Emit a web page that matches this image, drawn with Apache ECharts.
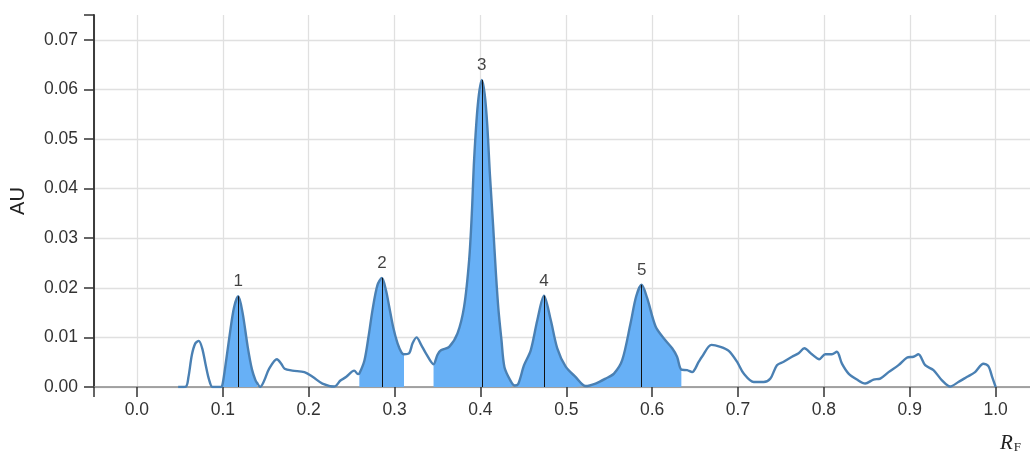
<!DOCTYPE html>
<html>
<head>
<meta charset="utf-8">
<script src="https://cdn.jsdelivr.net/npm/echarts@6/dist/echarts.min.js"></script>
<style>
  html, body { margin: 0; padding: 0; background: #fff; }
  #chart { width: 1030px; height: 459px; }
</style>
</head>
<body>
<div id="chart"></div>
<script>
// densitogram trace: RF position vs absorbance (AU)
const rf = [
  0.048, 0.057, 0.060, 0.064, 0.068, 0.072, 0.076, 0.080, 0.084, 0.088,
  0.098, 0.100, 0.104, 0.108, 0.113, 0.118, 0.123, 0.129, 0.134, 0.138,
  0.140, 0.1435, 0.148, 0.154, 0.163, 0.168, 0.172, 0.181, 0.195, 0.205,
  0.216, 0.230, 0.237, 0.2435, 0.253, 0.2575, 0.259, 0.265, 0.270, 0.2744,
  0.280, 0.2853, 0.290, 0.2938, 0.2985, 0.3035, 0.308, 0.311, 0.317, 0.321,
  0.3256, 0.331, 0.3365, 0.3454, 0.350, 0.354, 0.3636, 0.3733, 0.381, 0.3869,
  0.390, 0.3927, 0.397, 0.4016, 0.405, 0.408, 0.411, 0.4148, 0.418, 0.421,
  0.4245, 0.428, 0.4353, 0.440, 0.444, 0.4508, 0.4586, 0.4663, 0.474, 0.4819,
  0.4895, 0.4993, 0.511, 0.5225, 0.534, 0.5458, 0.5555, 0.5651, 0.5749, 0.5814,
  0.5877, 0.5942, 0.604, 0.6136, 0.6233, 0.629, 0.634, 0.6407, 0.6465, 0.6543,
  0.658, 0.669, 0.6795, 0.6892, 0.6988, 0.7066, 0.7183, 0.7299, 0.7377, 0.7453,
  0.7531, 0.7628, 0.7706, 0.7772, 0.786, 0.7946, 0.8016, 0.8093, 0.8151, 0.821,
  0.8287, 0.8384, 0.8481, 0.8578, 0.8656, 0.8753, 0.8869, 0.8965, 0.9043, 0.9101,
  0.9179, 0.9276, 0.9372, 0.947, 0.9566, 0.9663, 0.976, 0.9857, 0.9915, 0.996,
  1.0
];
const au = [
  0, 0.0001, 0.002, 0.0065, 0.0088, 0.0093, 0.0078, 0.0045, 0.0015, 0,
  0, 0.0008, 0.0055, 0.0105, 0.016, 0.0183, 0.015, 0.0081, 0.0035, 0.0014,
  0.0008, 0, 0.0012, 0.0037, 0.0056, 0.0047, 0.0037, 0.0033, 0.003, 0.002,
  0.0007, 0.0001, 0.0013, 0.002, 0.0033, 0.0026, 0.0027, 0.0054, 0.0105, 0.0156,
  0.0205, 0.022, 0.0195, 0.0162, 0.012, 0.0088, 0.007, 0.0066, 0.0068, 0.0088,
  0.01, 0.0085, 0.0068, 0.0046, 0.0065, 0.0074, 0.0081, 0.0108, 0.0162, 0.0257,
  0.035, 0.046, 0.057, 0.0619, 0.059, 0.0527, 0.043, 0.0325, 0.023, 0.0156,
  0.0095, 0.004, 0.0012, 0.0003, 0.0006, 0.0044, 0.0074, 0.0135, 0.0184, 0.0135,
  0.0078, 0.0041, 0.002, 0.0002, 0.0007, 0.0017, 0.0027, 0.0054, 0.0129, 0.0183,
  0.0206, 0.0179, 0.0122, 0.0098, 0.0078, 0.0061, 0.0035, 0.0034, 0.003, 0.0051,
  0.0061, 0.0085, 0.0081, 0.0073, 0.0051, 0.0027, 0.001, 0.001, 0.0017, 0.0044,
  0.0051, 0.0061, 0.0068, 0.0078, 0.0066, 0.0056, 0.0066, 0.0066, 0.0071, 0.0047,
  0.0027, 0.0015, 0.0007, 0.0015, 0.0017, 0.003, 0.0044, 0.0059, 0.0061, 0.0066,
  0.0044, 0.0034, 0.0014, 0.0001, 0.001, 0.002, 0.003, 0.0047, 0.0042, 0.002,
  0
];

// integrated peaks
const peakLabels = ["1", "2", "3", "4", "5"];
const peakRf = [0.118, 0.2853, 0.4016, 0.474, 0.5877];
const peakAu = [0.0183, 0.022, 0.0619, 0.0184, 0.0206];
const peakStart = [0.100, 0.259, 0.3454, 0.440, 0.5225];
const peakEnd = [0.140, 0.311, 0.440, 0.5225, 0.634];

// axis ticks
const xTicks = [0, 0.1, 0.2, 0.3, 0.4, 0.5, 0.6, 0.7, 0.8, 0.9, 1.0];
const yTicks = [0, 0.01, 0.02, 0.03, 0.04, 0.05, 0.06, 0.07];
const xMin = -0.05, xMax = 1.04;
const yMin = 0, yMax = 0.075;

const curve = rf.map((x, i) => [x, au[i]]);
const SMOOTH = 0.3;

const fillSeries = peakStart.map((s, k) => ({
  type: "line",
  name: "peak " + peakLabels[k],
  data: curve.filter(p => p[0] >= peakStart[k] - 1e-9 && p[0] <= peakEnd[k] + 1e-9),
  smooth: SMOOTH,
  symbol: "none",
  lineStyle: { width: 0 },
  areaStyle: { color: "#67b0f6", opacity: 1 },
  z: 2,
  silent: true
}));

const chart = echarts.init(document.getElementById("chart"), null, { renderer: "canvas" });

const option = {
  animation: false,
  backgroundColor: "#fff",
  textStyle: { fontFamily: "Liberation Sans, Arial, sans-serif" },
  title: {
    text: "{r|R}{f|F}",
    right: 4,
    bottom: 0,
    textStyle: {
      rich: {
        r: { fontFamily: "Liberation Serif", fontStyle: "italic", fontWeight: "normal", fontSize: 21, color: "#222" },
        f: { fontFamily: "Liberation Serif", fontWeight: "normal", fontSize: 13, color: "#222", verticalAlign: "bottom", padding: [7, 0, 0, 1] }
      }
    }
  },
  grid: { left: 94, right: -2, top: 15, bottom: 72, containLabel: false },
  xAxis: {
    type: "value",
    min: xMin,
    max: xMax,
    axisLine: { show: true, onZero: false, lineStyle: { color: "#8a8a8a", width: 1.5 } },
    axisTick: {
      show: true, length: 10, customValues: [xMin].concat(xTicks),
      lineStyle: { color: "#333", width: 1.5 }
    },
    axisLabel: {
      customValues: xTicks, margin: 14, fontSize: 17.5, color: "#333",
      formatter: v => v.toFixed(1)
    },
    splitLine: { show: true, lineStyle: { color: "#e0e0e0", width: 1.3 } }
  },
  yAxis: {
    type: "value",
    min: yMin,
    max: yMax,
    name: "AU",
    nameLocation: "middle",
    nameGap: 66,
    nameRotate: 90,
    nameTextStyle: { fontSize: 20, color: "#222" },
    axisLine: { show: true, onZero: false, lineStyle: { color: "#3d3d3d", width: 2 } },
    axisTick: {
      show: true, length: 10, customValues: yTicks.concat([yMax]),
      lineStyle: { color: "#333", width: 1.5 }
    },
    axisLabel: {
      customValues: yTicks, margin: 16, fontSize: 17.5, color: "#333",
      formatter: v => v.toFixed(2)
    },
    splitLine: { show: true, showMaxLine: false, lineStyle: { color: "#e0e0e0", width: 1.3 } }
  },
  series: fillSeries.concat([
    {
      type: "line",
      name: "trace",
      data: curve,
      smooth: SMOOTH,
      symbol: "none",
      lineStyle: { color: "#4a80b3", width: 2.4 },
      z: 4,
      markLine: {
        silent: true,
        symbol: "none",
        label: { show: false },
        lineStyle: { color: "#111", width: 1, type: "solid" },
        data: peakRf.map((x, k) => [{ coord: [x, 0] }, { coord: [x, peakAu[k]] }])
      }
    },
    {
      type: "scatter",
      name: "labels",
      data: peakRf.map((x, k) => [x, peakAu[k], peakLabels[k]]),
      symbolSize: 0,
      z: 5,
      label: {
        show: true,
        position: "top",
        distance: 6,
        fontSize: 17,
        color: "#111",
        formatter: p => p.value[2]
      }
    }
  ])
};

chart.setOption(option);
window.addEventListener("resize", () => chart.resize());
</script>
</body>
</html>
